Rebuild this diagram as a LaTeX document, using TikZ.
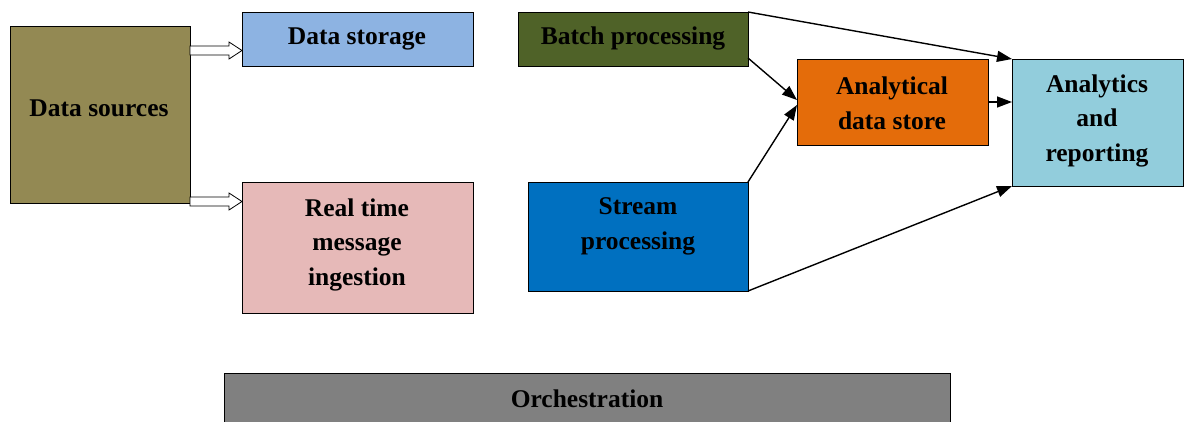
\documentclass[tikz,border=0pt]{standalone}
\usepackage{fontspec}
\setmainfont{Liberation Serif}
\usetikzlibrary{arrows.meta,calc}

\definecolor{srcol}{HTML}{938953}
\definecolor{storecol}{HTML}{8DB3E2}
\definecolor{ingcol}{HTML}{E6B9B8}
\definecolor{batchcol}{HTML}{4F6228}
\definecolor{streamcol}{HTML}{0070C0}
\definecolor{adscol}{HTML}{E46C0A}
\definecolor{repcol}{HTML}{92CDDC}
\definecolor{orchcol}{HTML}{808080}

\begin{document}
\begin{tikzpicture}[x=1pt,y=-1pt,
  box/.style={draw=black, line width=0.8pt, inner sep=0pt, outer sep=0pt},
  txt/.style={font=\bfseries\fontsize{25.5}{34.5}\selectfont, align=center, inner sep=0pt, text=black},
  flow/.style={draw=black, line width=1.4pt, -{Triangle[length=15pt,width=11pt]}},
  hollow/.style={draw=black, line width=0.8pt, fill=white, line join=miter}]

\useasboundingbox (0,0) rectangle (1184,421);

% boxes
\node[box, fill=srcol,     minimum width=180, minimum height=177] (src)   at (100,114.5) {};
\node[box, fill=storecol,  minimum width=231, minimum height=54]  (store) at (357.5,39) {};
\node[box, fill=ingcol,    minimum width=231, minimum height=131] (ing)   at (357.5,247.5) {};
\node[box, fill=batchcol,  minimum width=230, minimum height=54]  (batch) at (633,39) {};
\node[box, fill=streamcol, minimum width=220, minimum height=109] (stream) at (638,236.5) {};
\node[box, fill=adscol,    minimum width=191, minimum height=86]  (ads)   at (892.5,102) {};
\node[box, fill=repcol,    minimum width=171, minimum height=127] (rep)   at (1097.5,122.5) {};
\node[box, fill=orchcol,   minimum width=726, minimum height=60]  (orch)  at (587,403) {};

% labels
\node[txt] (srcT)    at (99,108.5)   {Data sources};
\node[txt] (storeT)  at (357,38.5)   {Data storage};
\node[txt] (ingT)    at (357,244.5)  {Real time\\message\\ingestion};
\node[txt] (batchT)  at (633,38.5)   {Batch processing};
\node[txt] (streamT) at (638,226.5)  {Stream\\processing};
\node[txt] (adsT)    at (892,103.5)  {Analytical\\data store};
\node[txt] (repT)    at (1097,120.5) {Analytics\\and\\reporting};
\node[txt] (orchT)   at (587,398.5)  {Orchestration};

% hollow block arrows out of the sources
\coordinate (h1s) at ($(src.north east)+(0,24.5)$);
\coordinate (h1e) at (store.west |- h1s);
\draw[hollow] ($(h1s)+(0,-4.5)$) -- ($(h1e)+(-13,-4.5)$) -- ++(0,-4) -- (h1e)
  -- ($(h1e)+(-13,8.5)$) -- ++(0,-4) -- ($(h1s)+(0,4.5)$) -- cycle;

\coordinate (h2s) at ($(src.south east)+(0,-1.5)$);
\coordinate (h2e) at (ing.west |- h2s);
\draw[hollow] ($(h2s)+(0,-4.5)$) -- ($(h2e)+(-13,-4.5)$) -- ++(0,-4) -- (h2e)
  -- ($(h2e)+(-13,8.5)$) -- ++(0,-4) -- ($(h2s)+(0,4.5)$) -- cycle;

% data flow connectors
\draw[flow] (batch.north east) -- (rep.north west);
\draw[flow] ($(batch.south east)+(0,-8)$) -- ($(ads.west)+(0,-2)$);
\draw[flow] (stream.north east) -- ($(ads.west)+(0,3)$);
\draw[flow] (ads.east) -- (rep.west |- ads.east);
\draw[flow] (stream.south east) -- (rep.south west);

\end{tikzpicture}
\end{document}
